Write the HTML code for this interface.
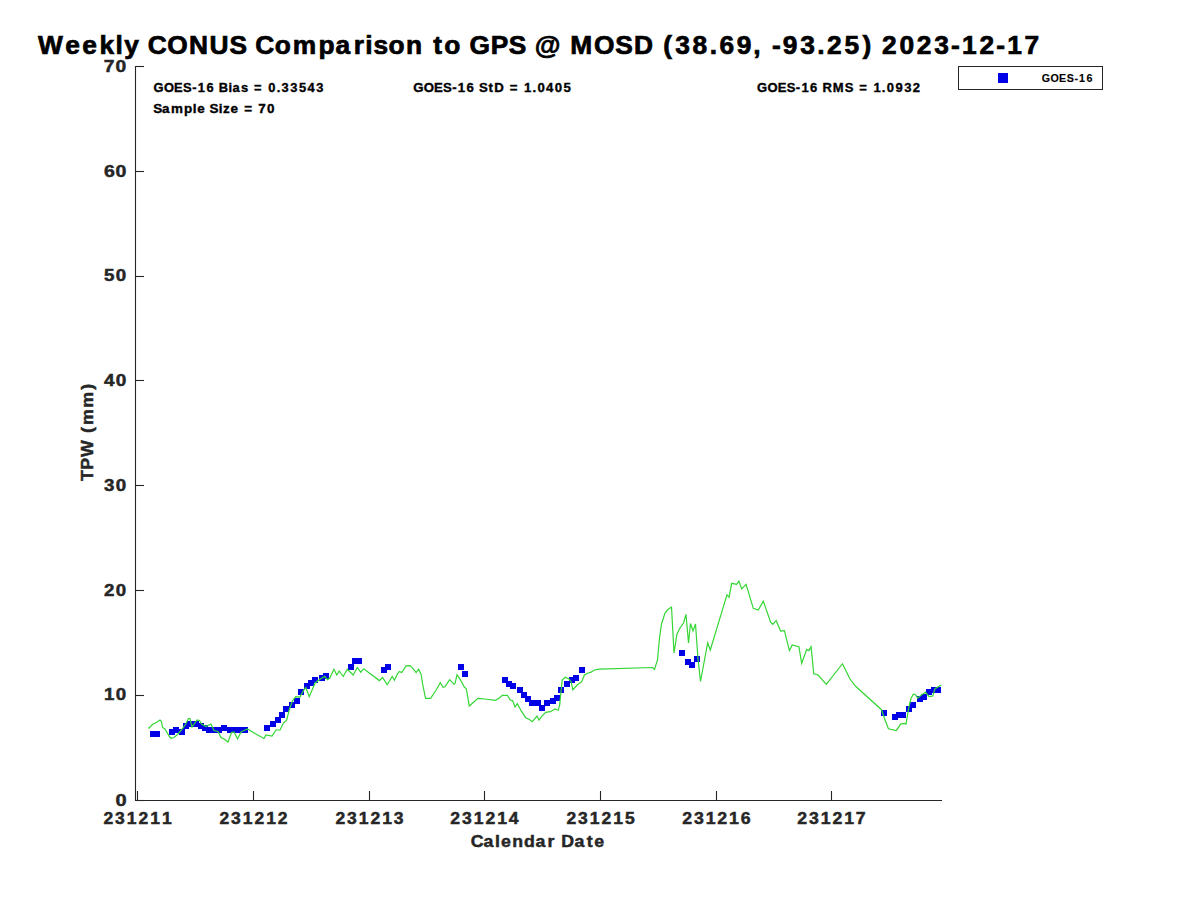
<!DOCTYPE html>
<html><head><meta charset="utf-8"><style>
html,body{margin:0;padding:0;background:#fff;width:1200px;height:900px;overflow:hidden}
svg{display:block}
text{font-family:"Liberation Sans",sans-serif;font-weight:bold}
</style></head><body>
<svg width="1200" height="900" viewBox="0 0 1200 900">
<rect width="1200" height="900" fill="#fff"/>
<text transform="scale(1.0338,1)" x="36.85 63.21 79.61 96.33 111.73 120.09 135.16 142.91 161.70 182.81 202.75 222.08 239.17 246.92 265.86 283.22 308.18 324.65 342.11 353.32 361.23 375.91 392.84 409.21 419.05 429.71 445.80 454.21 474.63 492.11 509.20 517.25 541.80 551.64 574.66 595.17 613.26 632.33 641.48 653.15 669.93 686.52 696.06 712.68 728.74 737.48 746.68 757.14 774.10 790.65 800.07 816.97 834.26 843.47 853.19 870.06 886.84 903.71 919.98 930.64 947.36 963.67 974.33 990.93" y="54.10" font-size="25.47" fill="#000" stroke="#000" stroke-width="0.70">Weekly CONUS Comparison to GPS @ MOSD (38.69, -93.25) 2023-12-17</text>
<g stroke="#262626" stroke-width="1.1" fill="none">
<line x1="135.5" y1="66.0" x2="135.5" y2="801"/>
<line x1="135" y1="800.5" x2="942" y2="800.5"/>
<line x1="135.5" y1="800.50" x2="144" y2="800.50"/><line x1="135.5" y1="695.50" x2="144" y2="695.50"/><line x1="135.5" y1="590.50" x2="144" y2="590.50"/><line x1="135.5" y1="485.50" x2="144" y2="485.50"/><line x1="135.5" y1="380.50" x2="144" y2="380.50"/><line x1="135.5" y1="276.50" x2="144" y2="276.50"/><line x1="135.5" y1="171.50" x2="144" y2="171.50"/><line x1="135.5" y1="66.50" x2="144" y2="66.50"/><line x1="137.50" y1="800.5" x2="137.50" y2="791"/><line x1="253.50" y1="800.5" x2="253.50" y2="791"/><line x1="369.50" y1="800.5" x2="369.50" y2="791"/><line x1="484.50" y1="800.5" x2="484.50" y2="791"/><line x1="600.50" y1="800.5" x2="600.50" y2="791"/><line x1="716.50" y1="800.5" x2="716.50" y2="791"/><line x1="831.50" y1="800.5" x2="831.50" y2="791"/>
</g>
<g><text transform="scale(1.2043,1)" x="95.83" y="806.30" font-size="16.61" fill="#262626" stroke="#262626" stroke-width="0.47">0</text><text transform="scale(1.1296,1)" x="92.15 102.48" y="700.30" font-size="16.61" fill="#262626" stroke="#262626" stroke-width="0.47">10</text><text transform="scale(1.1272,1)" x="92.31 102.70" y="596.30" font-size="16.61" fill="#262626" stroke="#262626" stroke-width="0.47">20</text><text transform="scale(1.1293,1)" x="92.16 102.50" y="491.30" font-size="16.61" fill="#262626" stroke="#262626" stroke-width="0.47">30</text><text transform="scale(1.1412,1)" x="91.04 101.39" y="386.30" font-size="16.61" fill="#262626" stroke="#262626" stroke-width="0.47">40</text><text transform="scale(1.1283,1)" x="92.26 102.60" y="281.30" font-size="16.61" fill="#262626" stroke="#262626" stroke-width="0.47">50</text><text transform="scale(1.1751,1)" x="88.42 98.33" y="177.30" font-size="16.61" fill="#262626" stroke="#262626" stroke-width="0.47">60</text><text transform="scale(1.1607,1)" x="89.44 99.61" y="72.30" font-size="16.61" fill="#262626" stroke="#262626" stroke-width="0.47">70</text><text transform="scale(1.0532,1)" x="98.17 109.29 120.44 131.47 142.64 153.74" y="824.40" font-size="16.61" fill="#262626" stroke="#262626" stroke-width="0.47">231211</text><text transform="scale(1.0528,1)" x="208.39 219.52 230.67 241.70 252.88 263.90" y="824.40" font-size="16.61" fill="#262626" stroke="#262626" stroke-width="0.47">231212</text><text transform="scale(1.0539,1)" x="318.24 329.35 340.50 351.51 362.68 373.72" y="824.40" font-size="16.61" fill="#262626" stroke="#262626" stroke-width="0.47">231213</text><text transform="scale(1.0589,1)" x="425.30 436.36 447.45 458.41 469.53 480.42" y="824.40" font-size="16.61" fill="#262626" stroke="#262626" stroke-width="0.47">231214</text><text transform="scale(1.0536,1)" x="537.59 548.71 559.86 570.88 582.05 593.12" y="824.40" font-size="16.61" fill="#262626" stroke="#262626" stroke-width="0.47">231215</text><text transform="scale(1.0688,1)" x="638.37 649.33 660.31 671.18 682.19 693.13" y="824.40" font-size="16.61" fill="#262626" stroke="#262626" stroke-width="0.47">231216</text><text transform="scale(1.0636,1)" x="749.68 760.70 771.74 782.65 793.72 804.56" y="824.40" font-size="16.61" fill="#262626" stroke="#262626" stroke-width="0.47">231217</text></g>
<text transform="scale(1.0679,1)" x="440.72 452.73 463.56 469.11 479.59 490.61 501.43 512.71 519.58 525.58 538.01 549.35 556.51" y="847.00" font-size="16.62" fill="#262626" stroke="#262626" stroke-width="0.47">Calendar Date</text>
<text transform="translate(92.70,481.30) rotate(-90) scale(1.0681,1)" x="0.17 10.90 22.82 39.29 45.18 52.64 68.93 85.63" y="0" font-size="16.62" fill="#262626" stroke="#262626" stroke-width="0.47">TPW (mm)</text>
<text transform="scale(1.0131,1)" x="151.49 161.80 171.88 180.64 189.71 195.17 203.74 211.52 215.90 225.54 229.59 237.92 245.06 250.79 259.67 264.72 273.11 277.96 286.54 295.13 303.60 312.25" y="91.70" font-size="12.72" fill="#000" stroke="#000" stroke-width="0.35">GOES-16 Bias = 0.33543</text>
<text transform="scale(1.0565,1)" x="144.99 153.44 161.90 174.12 182.43 186.62 194.22 198.41 207.11 211.11 218.17 225.78 231.12 239.79 244.41 252.70" y="113.10" font-size="12.72" fill="#000" stroke="#000" stroke-width="0.35">Sample Size = 70</text>
<text transform="scale(1.0373,1)" x="398.50 408.58 418.45 427.03 435.95 441.26 449.65 457.33 461.68 470.91 476.45 485.97 491.49 500.26 505.15 513.37 518.08 526.39 534.85 543.25" y="91.70" font-size="12.74" fill="#000" stroke="#000" stroke-width="0.35">GOES-16 StD = 1.0405</text>
<text transform="scale(1.0223,1)" x="740.54 750.77 760.78 769.48 778.50 783.91 792.42 800.17 804.68 814.62 826.22 834.81 840.47 849.32 854.33 862.64 867.45 875.89 884.46 892.95" y="91.70" font-size="12.74" fill="#000" stroke="#000" stroke-width="0.35">GOES-16 RMS = 1.0932</text>
<g fill="#0000e6"><rect x="150" y="731" width="6" height="6"/><rect x="154" y="731" width="6" height="6"/><rect x="169" y="729" width="6" height="6"/><rect x="173" y="727" width="6" height="6"/><rect x="179" y="729" width="6" height="6"/><rect x="183" y="723" width="6" height="6"/><rect x="187" y="721" width="6" height="6"/><rect x="193" y="721" width="6" height="6"/><rect x="198" y="723" width="6" height="6"/><rect x="202" y="725" width="6" height="6"/><rect x="206" y="727" width="6" height="6"/><rect x="210" y="727" width="6" height="6"/><rect x="216" y="727" width="6" height="6"/><rect x="221" y="725" width="6" height="6"/><rect x="227" y="727" width="6" height="6"/><rect x="233" y="727" width="6" height="6"/><rect x="236" y="727" width="6" height="6"/><rect x="242" y="727" width="6" height="6"/><rect x="264" y="725" width="6" height="6"/><rect x="270" y="721" width="6" height="6"/><rect x="275" y="717" width="6" height="6"/><rect x="279" y="712" width="6" height="6"/><rect x="283" y="706" width="6" height="6"/><rect x="289" y="702" width="6" height="6"/><rect x="294" y="698" width="6" height="6"/><rect x="298" y="689" width="6" height="6"/><rect x="304" y="683" width="6" height="6"/><rect x="308" y="680" width="6" height="6"/><rect x="312" y="677" width="6" height="6"/><rect x="319" y="675" width="6" height="6"/><rect x="323" y="673" width="6" height="6"/><rect x="348" y="664" width="6" height="6"/><rect x="352" y="658" width="6" height="6"/><rect x="356" y="658" width="6" height="6"/><rect x="381" y="667" width="6" height="6"/><rect x="385" y="664" width="6" height="6"/><rect x="458" y="664" width="6" height="6"/><rect x="462" y="671" width="6" height="6"/><rect x="502" y="677" width="6" height="6"/><rect x="506" y="681" width="6" height="6"/><rect x="510" y="683" width="6" height="6"/><rect x="517" y="687" width="6" height="6"/><rect x="521" y="692" width="6" height="6"/><rect x="525" y="696" width="6" height="6"/><rect x="529" y="700" width="6" height="6"/><rect x="535" y="700" width="6" height="6"/><rect x="539" y="705" width="6" height="6"/><rect x="544" y="700" width="6" height="6"/><rect x="550" y="698" width="6" height="6"/><rect x="554" y="695" width="6" height="6"/><rect x="558" y="687" width="6" height="6"/><rect x="564" y="681" width="6" height="6"/><rect x="569" y="677" width="6" height="6"/><rect x="573" y="675" width="6" height="6"/><rect x="579" y="667" width="6" height="6"/><rect x="679" y="650" width="6" height="6"/><rect x="685" y="659" width="6" height="6"/><rect x="689" y="662" width="6" height="6"/><rect x="694" y="656" width="6" height="6"/><rect x="881" y="710" width="6" height="6"/><rect x="892" y="714" width="6" height="6"/><rect x="896" y="712" width="6" height="6"/><rect x="900" y="712" width="6" height="6"/><rect x="906" y="706" width="6" height="6"/><rect x="910" y="702" width="6" height="6"/><rect x="917" y="696" width="6" height="6"/><rect x="921" y="694" width="6" height="6"/><rect x="926" y="689" width="6" height="6"/><rect x="931" y="687" width="6" height="6"/><rect x="935" y="687" width="6" height="6"/></g>
<polyline points="148.5,728.5 153,724 155.5,723 160,720 161.5,721.5 162.5,727.5 165,729 169,736 171,738.25 174,737.5 177.5,734.5 181,730.5 185.5,724.5 188.5,718.5 190,718.5 192,727 197,720 199.5,720.5 201.5,724 206,726.5 211,724 214,730.5 218,731.5 221,737.5 224,739 228,742 231.5,732.5 234,732 237.5,739 241,732 243,731 247.5,729 255,733.5 264,738.5 266,735 272,736 276,730 280,730 283.3,723.3 286.7,720 289.2,710 292.5,700.8 295.8,696.7 300,697 303.3,690.8 305.8,687.5 309.2,696.7 315.25,682.7 319.3,679.75 324.6,676.25 327.5,679.75 329.8,678 333.9,669.25 336.8,675 339.2,671 343.25,676.5 347.3,669.25 353.2,675 357.25,667.5 360.75,672.2 363.7,668.7 379.4,680.6 382.5,677.5 387.2,684.7 392.2,676.4 394.4,680.3 397.5,673.9 399.4,671.4 401.7,672.5 406.1,665.8 410,665.6 412.8,668.3 416.1,672.5 418.6,669.2 421.1,674.4 422.8,685 425.6,698.3 430.6,698.3 436,690.3 440.3,682.7 443,687.3 445,686.7 449.7,679.7 454,684.3 455,683.7 457,674.7 460.7,680.3 464.3,687 466.3,688.7 469.3,706 478,698.3 485,699 495.3,700.3 499,698.3 502.3,695.3 507.3,695.3 510.3,700 512.7,700.7 515,707 517.3,703.7 521.7,711.7 525.7,717.7 529,719.3 532.3,721.7 535,718.3 537,716 539,720 541.7,716.3 545.7,712.3 550.3,711.7 555,709 558.3,710.3 559.7,705 561,691.7 562.2,680 565.3,677.2 568.9,678.9 571.1,681.7 572.8,689.7 577.2,685 581.7,681.7 584.4,675 588.3,673 591.1,672.2 594.4,670 599.4,669.2 652.5,667.5 654.5,669.5 657.5,660 659.5,638 661.5,624 665,613 668,609.5 671.5,607 674,653 677,634 680,628 683.5,623 686,614.5 688.5,643 690.5,623.5 693,631 695.5,624 698,659 700.5,681.5 707.7,642.7 710.3,650 727,594.7 729,597.3 731.7,583.3 736.7,584.4 738.9,581.1 741.7,588.9 746.1,584.4 753.3,608.3 758.3,610 763.3,601.1 770.6,622.2 772.8,624.4 776.1,620.6 780.6,631.1 784.4,630.6 789.4,650.6 792.2,645 798.9,646.7 801.7,663.3 806.7,649.4 808.9,650.6 811.1,646.7 813.75,673.75 818.1,675 826.25,684.4 842.5,663.75 850,679 855.6,686.25 881.5,709.7 884.4,718.3 888.4,728.8 896.3,730.6 900.6,724.1 904.6,723.4 906,724.1 907.1,717.6 908.9,706.8 911.1,698.1 913.3,694.1 915.4,694.5 917.6,698.1 922,694.5 925.5,692.3 929.2,696.7 932.8,696 935,688.7 941.4,685.1" fill="none" stroke="#33d633" stroke-width="1.2" stroke-linejoin="miter"/>
<rect x="958.5" y="66.5" width="144" height="23" fill="#fff" stroke="#262626" stroke-width="1"/>
<rect x="998" y="73" width="10" height="10" fill="#0000e6"/>
<text transform="scale(0.9700,1)" x="1073.86 1082.98 1091.89 1099.63 1107.62 1112.48 1120.06" y="82.00" font-size="11.02" fill="#000" stroke="#000" stroke-width="0.13">GOES-16</text>
</svg>
</body></html>
